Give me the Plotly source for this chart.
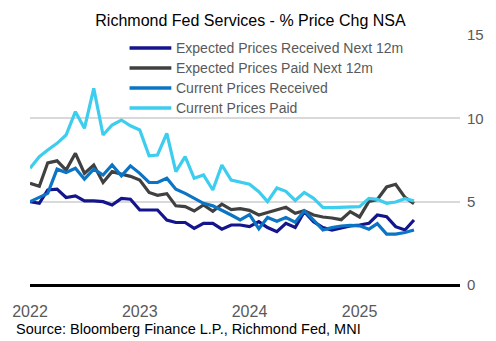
import pandas as pd
import plotly.graph_objects as go

# Monthly survey readings, Jan 2022 - Jul 2025
months = pd.date_range("2022-01-01", periods=43, freq="MS")

exp_received = [5.0, 4.9, 5.7, 5.75, 5.25, 5.35, 5.05, 5.05, 5.0, 4.8, 5.2, 5.15,
                4.5, 4.5, 4.5, 3.9, 3.75, 3.75, 3.4, 3.7, 3.7, 3.35, 3.6, 3.6,
                3.5, 3.8, 3.45, 3.2, 3.7, 3.45, 4.4, 3.8, 3.45, 3.3, 3.45, 3.55,
                3.6, 3.7, 4.2, 4.1, 3.5, 3.3, 3.9]

exp_paid = [6.1, 5.93, 7.33, 7.45, 6.9, 7.9, 6.7, 7.2, 6.15, 6.8, 6.65, 6.52,
            6.3, 5.55, 5.38, 5.48, 4.75, 4.7, 4.44, 4.8, 4.42, 4.85, 4.52, 4.58,
            4.48, 4.2, 4.35, 4.52, 4.66, 4.3, 4.46, 4.2, 4.08, 4.02, 3.92, 4.4,
            4.08, 5.02, 5.13, 5.88, 6.04, 5.26, 4.88]

cur_received = [5.0, 5.25, 5.5, 6.95, 6.75, 7.0, 6.35, 6.95, 6.6, 7.2, 6.55, 7.15,
                6.7, 6.15, 6.15, 6.4, 5.75, 5.5, 5.2, 4.9, 4.75, 4.5, 4.2, 3.9,
                4.22, 3.38, 4.05, 3.82, 4.05, 3.77, 4.45, 3.9, 3.3, 3.44, 3.54, 3.58,
                3.55, 3.35, 3.68, 3.05, 3.05, 3.15, 3.3]

cur_paid = [7.0, 7.7, 8.1, 8.5, 9.0, 10.4, 9.4, 11.8, 9.0, 9.6, 9.9, 9.55,
            9.3, 7.75, 7.8, 9.1, 6.8, 7.7, 6.4, 6.6, 5.7, 7.2, 6.3, 6.2,
            6.05, 5.6, 5.0, 5.82, 5.62, 5.07, 5.55, 5.2, 4.65, 4.64, 4.66, 4.66,
            4.7, 5.2, 5.14, 4.9, 4.98, 5.18, 5.05]

series = [
    ("Expected Prices Received Next 12m", exp_received, "#14148c"),
    ("Expected Prices Paid Next 12m", exp_paid, "#404040"),
    ("Current Prices Received", cur_received, "#0b74c4"),
    ("Current Prices Paid", cur_paid, "#3dcdee"),
]

year_ticks = ["2022-01-01", "2023-01-01", "2024-01-01", "2025-01-01"]
year_labels = ["2022", "2023", "2024", "2025"]
y_ticks = [0, 5, 10, 15]

FONT = "Liberation Sans"
GREY_TEXT = "#595959"

W, H = 496, 341
M = dict(l=30, r=34, t=35, b=56)
PW, PH = W - M["l"] - M["r"], H - M["t"] - M["b"]


def px_x(px):
    """Horizontal pixel -> paper fraction."""
    return (px - M["l"]) / PW


def px_y(py):
    """Vertical pixel (from top) -> paper fraction."""
    return (H - M["b"] - py) / PH


fig = go.Figure()
for name, vals, color in series:
    fig.add_trace(go.Scatter(
        x=months, y=vals, name=name, mode="lines",
        line=dict(color=color, width=3.2),
        hoverinfo="skip", showlegend=False,
    ))

# Legend: short line swatch plus label per series, stacked 20px apart
shapes, annotations = [], []
for k, (name, _, color) in enumerate(series):
    row_y = px_y(48 + 20 * k)
    shapes.append(dict(
        type="line", xref="paper", yref="paper",
        x0=px_x(130), x1=px_x(172), y0=row_y, y1=row_y,
        line=dict(color=color, width=3.5),
    ))
    annotations.append(dict(
        text=name, xref="paper", yref="paper",
        x=px_x(175), y=row_y, xanchor="left", yanchor="middle",
        showarrow=False,
        font=dict(family=FONT, size=14, color=GREY_TEXT),
    ))

annotations.append(dict(
    text="Source: Bloomberg Finance L.P., Richmond Fed, MNI",
    xref="paper", yref="paper", x=px_x(14), y=px_y(329),
    xanchor="left", yanchor="middle", showarrow=False,
    font=dict(family=FONT, size=14.5, color="#000000"),
))

fig.update_layout(
    width=W, height=H,
    margin=M,
    paper_bgcolor="white", plot_bgcolor="white",
    font=dict(family=FONT, color=GREY_TEXT, size=15),
    title=dict(
        text="Richmond Fed Services - % Price Chg NSA",
        x=0.505, xanchor="center", y=1 - 20 / H, yanchor="middle",
        font=dict(family=FONT, size=16, color="#000000"),
    ),
    showlegend=False,
    shapes=shapes,
    annotations=annotations,
)

fig.update_xaxes(
    range=["2022-01-01", "2025-12-01"],
    tickvals=year_ticks, ticktext=year_labels,
    showgrid=False, zeroline=False, showline=False,
    ticks="", ticklabelstandoff=15,
    tickfont=dict(family=FONT, size=16, color=GREY_TEXT),
)

fig.update_yaxes(
    range=[0, 15], tickvals=y_ticks, side="right",
    showgrid=True, gridcolor="#d9d9d9", gridwidth=2,
    zeroline=True, zerolinecolor="#000000", zerolinewidth=2.5,
    showline=False, ticks="", ticklabelstandoff=6,
    tickfont=dict(family=FONT, size=15, color=GREY_TEXT),
)

fig.write_html("out.html")
